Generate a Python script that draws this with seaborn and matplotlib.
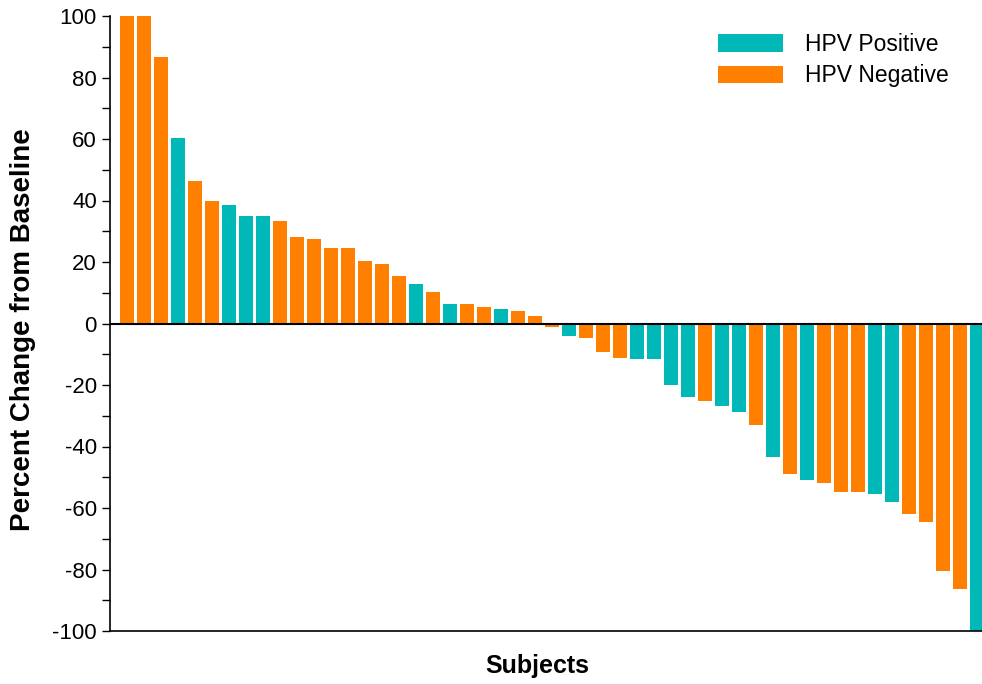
import matplotlib
matplotlib.use("Agg")
import matplotlib.pyplot as plt
from matplotlib.patches import Patch
from matplotlib.ticker import MultipleLocator
import pandas as pd
import seaborn as sns

# ----------------------------------
# Data
# ----------------------------------
pct_change = [100, 100, 86.8, 60.2, 46.5, 40.0, 38.4, 34.8, 34.8, 33.2,
              28.0, 27.6, 24.7, 24.7, 20.2, 19.2, 15.3, 12.7, 10.1, 6.5,
              6.2, 5.5, 4.6, 4.2, 2.6, -1.2, -4.2, -4.6, -9.4, -11.1,
              -11.4, -11.7, -20.1, -24.0, -25.3, -26.9, -28.9, -33.1, -43.5, -49.0,
              -51.0, -52.0, -54.9, -54.9, -55.3, -58.2, -61.8, -64.7, -80.6, -86.2,
              -100]
hpv_code = "NNNPNNPPPNNNNNNNNPNPNNPNNNPNNNPPPPNPPNPNPNNNPPNNNNP"
groups = ["HPV Positive", "HPV Negative"]
colors = ["#00B8B8", "#FF8000"]

status = ["HPV Positive" if c == "P" else "HPV Negative" for c in hpv_code]
subjects = list(range(len(pct_change)))

df = pd.DataFrame({"Subject": subjects, "Change": pct_change, "HPV": status})

# ----------------------------------
# Plot
# ----------------------------------
sns.set_style("white")
plt.rcParams["font.family"] = ["Liberation Sans", "DejaVu Sans"]
plt.rcParams["axes.unicode_minus"] = False
plt.rcParams["text.color"] = "black"
plt.rcParams["axes.labelcolor"] = "black"
plt.rcParams["ytick.color"] = "black"

fig = plt.figure(figsize=(9.82, 6.84), dpi=100)
ax = fig.add_axes([110 / 982, 53 / 684, 875 / 982, 615 / 684])

sns.barplot(
    data=df, x="Subject", y="Change", hue="HPV",
    hue_order=groups, palette=colors, dodge=False, width=0.82,
    linewidth=0, saturation=1, ax=ax,
)

ax.axhline(0, color="black", lw=1.5, zorder=5)
ax.set_xlim(-1.0, len(pct_change) - 0.55)
ax.set_ylim(-100, 100)

ax.yaxis.set_major_locator(MultipleLocator(20))
ax.yaxis.set_minor_locator(MultipleLocator(10))
ax.tick_params(axis="y", which="both", direction="out", length=6,
               width=1, color="black", left=True, labelsize=16,
               labelcolor="black")
ax.tick_params(axis="x", bottom=False, labelbottom=False)

for side in ["top", "right"]:
    ax.spines[side].set_visible(False)
for side in ["left", "bottom"]:
    ax.spines[side].set_color("black")
    ax.spines[side].set_linewidth(1.2)

ax.set_xlabel("Subjects", fontsize=18, fontweight="bold")
ax.set_ylabel("Percent Change from Baseline", fontsize=20, fontweight="bold")
ax.xaxis.set_label_coords(0.488, -0.037)
ax.yaxis.set_label_coords(-0.084, 0.49)

handles = [Patch(facecolor=c, edgecolor="none") for c in colors]
ax.legend(handles, groups, loc="upper left", bbox_to_anchor=(0.695, 0.972),
          frameon=False, fontsize=16.5, handlelength=2.84, handleheight=0.8,
          handletextpad=0.95, labelspacing=0.35, borderpad=0, borderaxespad=0)

fig.savefig("out.png", dpi=100)
